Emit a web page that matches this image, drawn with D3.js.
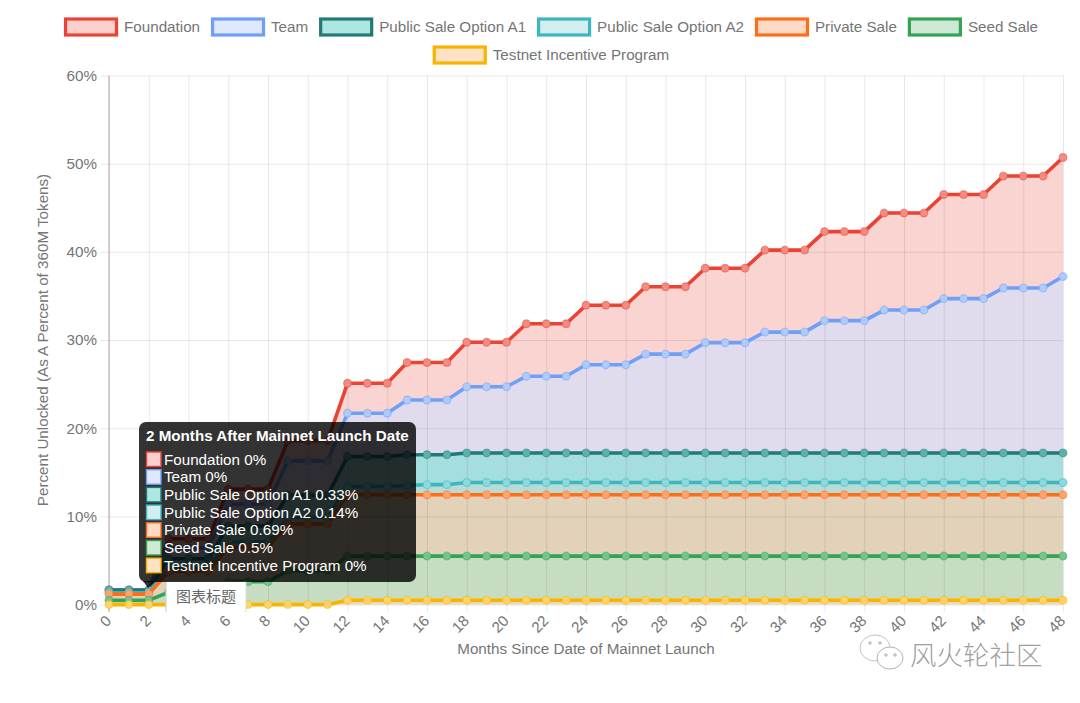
<!DOCTYPE html>
<html lang="en">
<head>
<meta charset="UTF-8">
<title>Token Unlock Schedule</title>
<script src="https://d3js.org/d3.v7.min.js"></script>
<style>
  body { margin: 0; background: #fff; }
  svg { display: block; font-family: "Liberation Sans", Arial, sans-serif; }
  .grid line { stroke: rgba(0,0,0,0.09); }
  .grid path { stroke: none; }
  .ticks text { fill: #757575; font-size: 15.2px; }
  .ticks line, .ticks path { stroke: none; }
</style>
</head>
<body>
<div id="chart"></div>
<script>
  const seriesNames = ["Foundation", "Team", "Public Sale Option A1", "Public Sale Option A2", "Private Sale", "Seed Sale", "Testnet Incentive Program"];
  const months = [0,1,2,3,4,5,6,7,8,9,10,11,12,13,14,15,16,17,18,19,20,21,22,23,24,25,26,27,28,29,30,31,32,33,34,35,36,37,38,39,40,41,42,43,44,45,46,47,48];

  // stacked levels, one per month
  const foundation = [1.66,1.66,1.66,7.46,7.46,7.46,13.1,13.1,13.1,18.6,18.6,18.6,25.1,25.1,25.1,27.45,27.45,27.45,29.75,29.75,29.75,31.85,31.85,31.85,33.95,33.95,33.95,36.05,36.05,36.05,38.15,38.15,38.15,40.2,40.2,40.2,42.3,42.3,42.3,44.4,44.4,44.4,46.5,46.5,46.5,48.6,48.6,48.6,50.7];
  const team = [1.66,1.66,1.66,6.45,6.45,6.45,11.4,11.4,11.4,16.3,16.3,16.3,21.7,21.7,21.7,23.2,23.2,23.2,24.7,24.7,24.7,25.9,25.9,25.9,27.2,27.2,27.2,28.4,28.4,28.4,29.7,29.7,29.7,30.9,30.9,30.9,32.2,32.2,32.2,33.4,33.4,33.4,34.7,34.7,34.7,35.9,35.9,35.9,37.2];
  const saleA1 = [1.66,1.66,1.66,5.2,5.2,5.2,8.9,8.9,8.9,12.4,12.4,12.4,16.8,16.8,16.8,17,17,17,17.2,17.2,17.2,17.2,17.2,17.2,17.2,17.2,17.2,17.2,17.2,17.2,17.2,17.2,17.2,17.2,17.2,17.2,17.2,17.2,17.2,17.2,17.2,17.2,17.2,17.2,17.2,17.2,17.2,17.2,17.2];
  const saleA2 = [1.33,1.33,1.33,4.1,4.1,4.1,7.1,7.1,7.1,9.9,9.9,9.9,13.4,13.4,13.4,13.5,13.6,13.6,13.85,13.85,13.85,13.85,13.85,13.85,13.85,13.85,13.85,13.85,13.85,13.85,13.85,13.85,13.85,13.85,13.85,13.85,13.85,13.85,13.85,13.85,13.85,13.85,13.85,13.85,13.85,13.85,13.85,13.85,13.85];
  const privateSale = [1.19,1.19,1.19,3.75,3.75,3.75,6.5,6.5,6.5,9.15,9.15,9.15,12.45,12.45,12.45,12.45,12.45,12.45,12.45,12.45,12.45,12.45,12.45,12.45,12.45,12.45,12.45,12.45,12.45,12.45,12.45,12.45,12.45,12.45,12.45,12.45,12.45,12.45,12.45,12.45,12.45,12.45,12.45,12.45,12.45,12.45,12.45,12.45,12.45];
  const seedSale = [0.5,0.5,0.5,1.4,1.4,1.4,2.6,2.6,2.6,3.85,3.85,3.85,5.5,5.5,5.5,5.5,5.5,5.5,5.5,5.5,5.5,5.5,5.5,5.5,5.5,5.5,5.5,5.5,5.5,5.5,5.5,5.5,5.5,5.5,5.5,5.5,5.5,5.5,5.5,5.5,5.5,5.5,5.5,5.5,5.5,5.5,5.5,5.5,5.5];
  const testnet = [0,0,0,0,0,0,0,0,0,0,0,0,0.5,0.5,0.5,0.5,0.5,0.5,0.5,0.5,0.5,0.5,0.5,0.5,0.5,0.5,0.5,0.5,0.5,0.5,0.5,0.5,0.5,0.5,0.5,0.5,0.5,0.5,0.5,0.5,0.5,0.5,0.5,0.5,0.5,0.5,0.5,0.5,0.5];
  const seriesValues = [foundation, team, saleA1, saleA2, privateSale, seedSale, testnet];

  const yTicks = [0,10,20,30,40,50,60];
  const xTicks = [0,2,4,6,8,10,12,14,16,18,20,22,24,26,28,30,32,34,36,38,40,42,44,46,48];
  const tooltipTitle = "2 Months After Mainnet Launch Date";
  const tooltipValues = ["0%", "0%", "0.33%", "0.14%", "0.69%", "0.5%", "0%"];

  const lineColors = ["#ea4335", "#6f9ff8", "#217a78", "#3fb5bf", "#ff6d1b", "#34a353", "#fbb300"];
  const pointColors = ["#f28b82", "#aecbfa", "#5fb0aa", "#8adbdf", "#ffa36e", "#76c48c", "#fdd36a"];
  const bandColors = ["#fad4d1", "#e0dcee", "#a5dedf", "#b7dcd6", "#e3d2ba", "#c7ddc2", "#ebd9b4"];
  const legendFills = ["#facfcc", "#dfe8fc", "#aee6e2", "#d2eeef", "#ffdac5", "#ceead6", "#fee2c3"];

  const width = 1080, height = 703;
  const fontPx = "15.2px";
  const x = d3.scaleLinear().domain([0, 48]).range([109, 1063]);
  const y = d3.scaleLinear().domain([0, 60]).range([604.6, 75.5]);

  const svg = d3.select("#chart").append("svg").attr("width", width).attr("height", height);

  // filled bands between one stacked line and the next one down
  seriesValues.forEach((vals, i) => {
    const below = seriesValues[i + 1];
    const area = d3.area()
      .x(d => x(d))
      .y0((d, k) => y(below ? below[k] : 0))
      .y1((d, k) => y(vals[k]));
    svg.append("path").datum(months).attr("d", area).attr("fill", bandColors[i]);
  });

  // grid
  svg.append("g").attr("class", "grid")
    .attr("transform", "translate(0,604)")
    .call(d3.axisBottom(x).tickValues(xTicks).tickSize(-528.5).tickFormat(""))
    .selectAll("line").attr("y2", -528.5).attr("y1", 8);
  svg.append("g").attr("class", "grid")
    .attr("transform", "translate(109,0)")
    .call(d3.axisLeft(y).tickValues(yTicks).tickSize(-954).tickFormat(""))
    .selectAll("line").attr("x1", -9);
  svg.append("line").attr("x1", 109).attr("x2", 109).attr("y1", y(60)).attr("y2", 612).attr("stroke", "#aaa");

  // lines and points, first series at the bottom of the pile
  seriesValues.forEach((vals, i) => {
    const line = d3.line().x(d => x(d)).y((d, k) => y(vals[k]));
    svg.append("path").datum(months).attr("d", line)
      .attr("fill", "none").attr("stroke", lineColors[i]).attr("stroke-width", 3.6);
    svg.append("g").selectAll("circle").data(months).join("circle")
      .attr("cx", d => x(d))
      .attr("cy", (d, k) => y(vals[k]))
      .attr("r", 3.9)
      .attr("fill", pointColors[i])
      .attr("stroke", lineColors[i])
      .attr("stroke-opacity", 0.45)
      .attr("stroke-width", 1.2);
  });

  // tick labels
  const yAxis = svg.append("g").attr("class", "ticks").attr("transform", "translate(97,0)")
    .call(d3.axisLeft(y).tickValues(yTicks).tickSize(0).tickPadding(0).tickFormat(d => d + "%"));
  yAxis.select(".domain").remove();

  const xAxis = svg.append("g").attr("class", "ticks").attr("transform", "translate(0,604)")
    .call(d3.axisBottom(x).tickValues(xTicks).tickSize(0).tickFormat(d => d));
  xAxis.select(".domain").remove();
  xAxis.selectAll("text")
    .attr("text-anchor", "end")
    .attr("dy", null)
    .attr("y", 0)
    .attr("transform", "translate(0,15) rotate(-45)")
    .attr("dominant-baseline", "middle");

  // axis titles
  svg.append("text").attr("x", 586).attr("y", 654).attr("text-anchor", "middle")
    .attr("fill", "#757575").style("font-size", fontPx).text("Months Since Date of Mainnet Launch");
  svg.append("text").attr("transform", "translate(48,340) rotate(-90)").attr("text-anchor", "middle")
    .attr("fill", "#757575").style("font-size", fontPx).text("Percent Unlocked (As A Percent of 360M Tokens)");

  // legend, centred rows
  const legendG = svg.append("g");
  const probe = legendG.append("text").style("font-size", fontPx);
  const itemW = seriesNames.map(n => 54 + 6 + probe.text(n).node().getComputedTextLength());
  probe.remove();
  const rows = [[]];
  let rowW = 0;
  seriesNames.forEach((n, i) => {
    if (rowW + itemW[i] > 1000) { rows.push([]); rowW = 0; }
    rows[rows.length - 1].push(i);
    rowW += itemW[i] + 11;
  });
  rows.forEach((row, r) => {
    const total = d3.sum(row, i => itemW[i]) + 11 * (row.length - 1);
    let lx = (1102 - total) / 2;
    row.forEach(i => {
      const ly = 27 + r * 28;
      legendG.append("rect").attr("x", lx + 1.5).attr("y", ly - 8).attr("width", 51).attr("height", 16)
        .attr("fill", legendFills[i]).attr("stroke", lineColors[i]).attr("stroke-width", 3.2);
      legendG.append("text").attr("x", lx + 60).attr("y", ly + 5).attr("fill", "#757575")
        .style("font-size", fontPx).text(seriesNames[i]);
      lx += itemW[i] + 11;
    });
  });

  // white box over the axis
  svg.append("rect").attr("x", 166).attr("y", 581).attr("width", 80).attr("height", 32).attr("fill", "#fff");
  svg.append("line").attr("x1", 166).attr("x2", 166).attr("y1", 581).attr("y2", 612).attr("stroke", "#ccc");
  svg.append("line").attr("x1", 246).attr("x2", 246).attr("y1", 581).attr("y2", 612).attr("stroke", "#ddd");
  svg.append("text").attr("x", 206).attr("y", 602).attr("text-anchor", "middle")
    .attr("fill", "#666").style("font-family", "'Noto Sans CJK SC'").style("font-size", "15px").text("图表标题");

  // tooltip
  const tip = svg.append("g");
  tip.append("path").attr("d", "M148,588L143,581L156,581Z").attr("fill", "rgba(0,0,0,0.8)");
  tip.append("rect").attr("x", 139).attr("y", 422).attr("width", 277).attr("height", 160).attr("rx", 7)
    .attr("fill", "rgba(0,0,0,0.8)");
  tip.append("text").attr("x", 146).attr("y", 441).attr("fill", "#fff")
    .style("font-size", fontPx).style("font-weight", "bold").text(tooltipTitle);
  seriesNames.forEach((n, i) => {
    const ty = 452 + i * 17.7;
    tip.append("rect").attr("x", 146.5).attr("y", ty).attr("width", 14.5).attr("height", 14.5)
      .attr("fill", legendFills[i]).attr("stroke", lineColors[i]).attr("stroke-width", 1.4);
    tip.append("text").attr("x", 164).attr("y", ty + 12.5).attr("fill", "#fff")
      .style("font-size", fontPx).text(n + " " + tooltipValues[i]);
  });

  // watermark
  const mark = svg.append("g");
  mark.append("ellipse").attr("cx", 875).attr("cy", 648).attr("rx", 15).attr("ry", 13)
    .attr("fill", "#fff").attr("stroke", "#c4c4c4");
  mark.append("ellipse").attr("cx", 890).attr("cy", 658).attr("rx", 13).attr("ry", 11)
    .attr("fill", "#fff").attr("stroke", "#b4b4b4");
  [[870, 643], [880, 643], [886, 655], [895, 655]].forEach(p => {
    mark.append("circle").attr("cx", p[0]).attr("cy", p[1]).attr("r", 1.2).attr("fill", "none").attr("stroke", "#aaa");
  });
  mark.append("text").attr("x", 910).attr("y", 665).attr("fill", "#a0a0a0")
    .style("font-family", "'Noto Sans CJK SC'").style("font-weight", "300").style("font-size", "26.5px").text("风火轮社区");
</script>
</body>
</html>
